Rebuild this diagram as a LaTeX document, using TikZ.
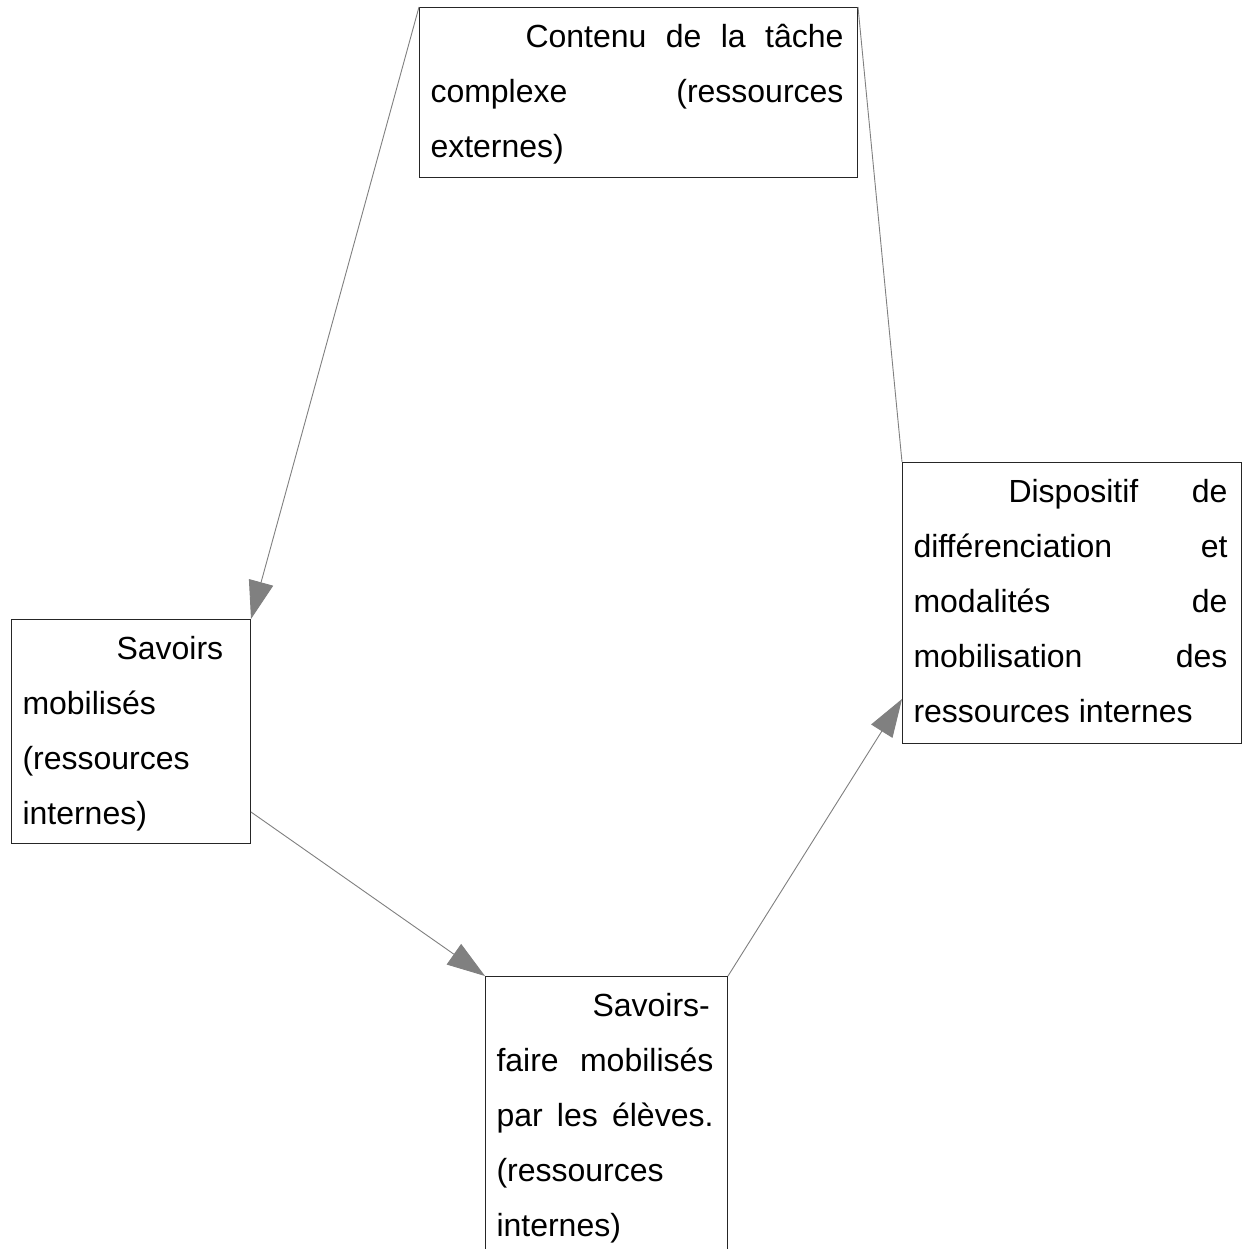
\documentclass[tikz,border=0pt]{standalone}
\usepackage{fontspec}
\setmainfont{Liberation Sans}
\usetikzlibrary{arrows.meta,calc}
\newcommand\jl[2][0pt]{\hspace*{#1}\makebox[\dimexpr\hsize-\leftskip-\rightskip-#1\relax][s]{#2}}
\newcommand\boxtext[3]{\begin{minipage}[t][#2][t]{#1}\fontsize{32}{55}\selectfont
\leftskip=11pt\rightskip=14pt\parindent=0pt\noindent\rule{0pt}{40pt}#3\end{minipage}}
\tikzset{
  textbox/.style={draw=black!85, line width=1pt, inner sep=0pt, anchor=north west},
  conn/.style={draw=gray, line width=0.9pt},
  arr/.style={-{Triangle[length=38pt,width=25pt,fill=gray]}}
}
\begin{document}
\begin{tikzpicture}[x=1pt,y=-1pt]
\useasboundingbox (0,0) rectangle (1247,1249);
\fill[white] (0,0) rectangle (1247,1249);
\clip (0,0) rectangle (1247,1249);
\node[textbox] (top) at (419,7) {\boxtext{438pt}{170pt}{%
\jl[95pt]{Contenu de la tâche}\\
\jl{complexe (ressources}\\
externes)}};
\node[textbox] (right) at (902,462) {\boxtext{339pt}{281pt}{%
\jl[95pt]{Dispositif de}\\
\jl{différenciation et}\\
\jl{modalités de}\\
\jl{mobilisation des}\\
ressources internes}};
\node[textbox] (left) at (11,619) {\boxtext{239pt}{224pt}{%
\hspace*{94pt}Savoirs\\
mobilisés\\
(ressources\\
internes)}};
\node[textbox] (bottom) at (485,976) {\boxtext{242pt}{300pt}{%
\hspace*{96pt}Savoirs-\\
\jl{faire mobilisés}\\
\jl{par les élèves.}\\
(ressources\\
internes)}};
\draw[conn, arr] (top.north west) -- (left.north east);
\draw[conn] (top.north east) -- (right.north west);
\draw[conn, arr] ($(left.south east)+(0,-32)$) -- (bottom.north west);
\draw[conn, arr] (bottom.north east) -- ($(right.south west)+(0,-45)$);
\end{tikzpicture}
\end{document}
